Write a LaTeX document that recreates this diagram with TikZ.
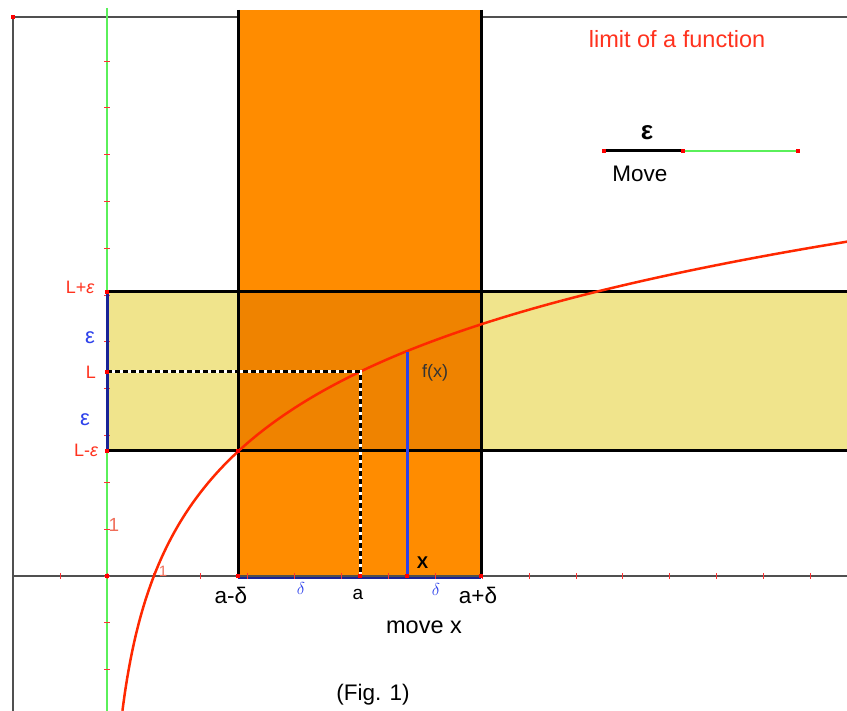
\documentclass[tikz,border=0pt]{standalone}
\usepackage{fontspec}
\setmainfont{Liberation Sans}
\definecolor{orng}{RGB}{255,140,0}
\definecolor{ovl}{RGB}{239,131,0}
\definecolor{khk}{RGB}{240,228,140}
\definecolor{crv}{RGB}{255,40,0}
\definecolor{lbl}{RGB}{255,50,30}
\definecolor{lblt}{RGB}{240,110,90}
\definecolor{eblue}{RGB}{45,65,235}
\definecolor{navy}{RGB}{25,35,150}
\definecolor{grn}{RGB}{90,240,90}
\definecolor{axg}{RGB}{80,80,80}
\tikzset{
  edgeline/.style={black,line width=3pt},
  dot/.style={fill=red,minimum size=4pt,inner sep=0pt,draw=none,rectangle},
  tick/.style={red!80!white,line width=1pt},
  lab/.style={inner sep=0pt,font=\fontsize{22.5}{24}\selectfont},
  redlab/.style={inner sep=0pt,text=lbl,font=\fontsize{18}{20}\selectfont},
  bluelab/.style={inner sep=0pt,text=eblue,font=\fontsize{22}{24}\selectfont},
  dashwhite/.style={white,line width=3pt},
  dashblack/.style={black,line width=3pt,dash pattern=on 5pt off 3pt},
}
\begin{document}
\begin{tikzpicture}[x=1pt,y=-1pt]
\useasboundingbox (0,0) rectangle (847,711);
\fill[white] (0,0) rectangle (847,711);
% key coordinates
\coordinate (F0) at (13,17);
\coordinate (F1) at (847,17);
\coordinate (F2) at (13,711);
\coordinate (Xl) at (13,576);
\coordinate (Xr) at (847,576);
\coordinate (Yt) at (107,8);
\coordinate (Yb) at (107,711);
\coordinate (O) at (107,576);
\coordinate (Lp) at (107,292);
\coordinate (L) at (107,372);
\coordinate (Lm) at (107,451);
\coordinate (Lpr) at (847,292);
\coordinate (Lmr) at (847,451);
\coordinate (Am) at (238,576);
\coordinate (Amt) at (238,10);
\coordinate (Ap) at (481,576);
\coordinate (Apt) at (481,10);
\coordinate (Amb) at (238,577.5);
\coordinate (Apb) at (481,577.5);
\coordinate (A) at (360,576);
\coordinate (Af) at (360,372);
\coordinate (X) at (407,576);
\coordinate (Xf) at (407,352);
\coordinate (LmC) at (238,451);
\coordinate (S0) at (604,151);
\coordinate (S1) at (683,151);
\coordinate (S2) at (798,151);
% frame
\draw[axg,line width=1.5pt] (F1) -- (F0) -- (F2);
% strips
\fill[orng] (Amt) rectangle (Ap);
\fill[khk] (Lp) rectangle (Lmr);
\fill[ovl] (238,292) rectangle (481,451);
% axes
\draw[grn,line width=1.5pt] (Yt) -- (Yb);
\draw[navy,line width=2.5pt] (Amb) -- (Apb);
\draw[axg,line width=1.2pt] (Xl) -- (Xr);
\foreach \k in {-1,...,15} \draw[tick] ({107+46.9*\k},573) -- ({107+46.9*\k},579);
\foreach \k in {-2,...,11} \draw[tick] (104,{576-46.8*\k}) -- (110,{576-46.8*\k});
% strip borders
\draw[edgeline] (Amt) -- (Am);
\draw[edgeline] (Apt) -- (Ap);
\draw[edgeline] (Lp) -- (Lpr);
\draw[edgeline] (Lm) -- (Lmr);
\draw[navy,line width=3pt] (Lp) -- (Lm);
% curve
\draw[crv,line width=2.5pt] plot[domain=0.329:15.9,samples=300,smooth,variable=\t] ({107+46.9*\t},{576-121.2*ln(\t)});
% dashed
\draw[dashwhite] (L) -- (Af) -- (A);
\draw[dashblack] (L) -- (Af) -- (A);
% x line
\draw[eblue,line width=3pt] (X) -- (Xf);
% slider
\draw[black,line width=3pt] (S0) -- (S1);
\draw[grn,line width=1.5pt] (S1) -- (S2);
% dots
\foreach \p/\n in {F0/d1,Lp/d2,L/d3,Lm/d4,LmC/d5,O/d6,Am/d7,A/d8,X/d9,Ap/d10,S0/d11,S1/d12,S2/d13}
  \node[dot] (\n) at (\p) {};
% labels
\node[inner sep=0pt,text=lbl,anchor=base,font=\fontsize{23.5}{25}\selectfont] (title) at (677,48) {limit of a function};
\node[inner sep=0pt,font=\bfseries\fontsize{26}{28}\selectfont] (epsS) at (647,133) {ε};
\node[lab,anchor=base] (move) at (640,182) {Move};
\node[redlab] (lpe) at (80,287) {L+{\itshape ε}};
\node[redlab] (lL) at (91,372) {L};
\node[redlab] (lme) at (86,450) {L-{\itshape ε}};
\node[bluelab] (e1) at (90,338) {ε};
\node[bluelab] (e2) at (85,420) {ε};
\node[inner sep=0pt,text=lblt,font=\fontsize{19}{20}\selectfont] (one1) at (114,525) {1};
\node[inner sep=0pt,text=lblt,font=\fontsize{15}{16}\selectfont] (one2) at (163,571) {1};
\node[lab,anchor=base] (amd) at (231,603) {a-δ};
\node[lab,anchor=base] (apd) at (478,603) {a+δ};
\node[inner sep=0pt,font=\fontsize{19}{20}\selectfont,anchor=base] (la) at (358,599) {a};
\node[inner sep=0pt,text=eblue,font=\fontsize{17}{18}\selectfont] (d1l) at (301,588) {$\delta$};
\node[inner sep=0pt,text=eblue,font=\fontsize{17}{18}\selectfont] (d2l) at (436,589) {$\delta$};
\node[inner sep=0pt,font=\bfseries\fontsize{17}{18}\selectfont,anchor=base] (lX) at (422.5,568) {X};
\node[inner sep=0pt,text=black!80,font=\fontsize{18}{19}\selectfont] (fx) at (435,373) {f(x)};
\node[inner sep=0pt,font=\fontsize{23.5}{25}\selectfont,anchor=base] (movex) at (424,633) {move x};
\node[lab,anchor=base] (fig) at (373,700) {(Fig. 1)};
\end{tikzpicture}
\end{document}
